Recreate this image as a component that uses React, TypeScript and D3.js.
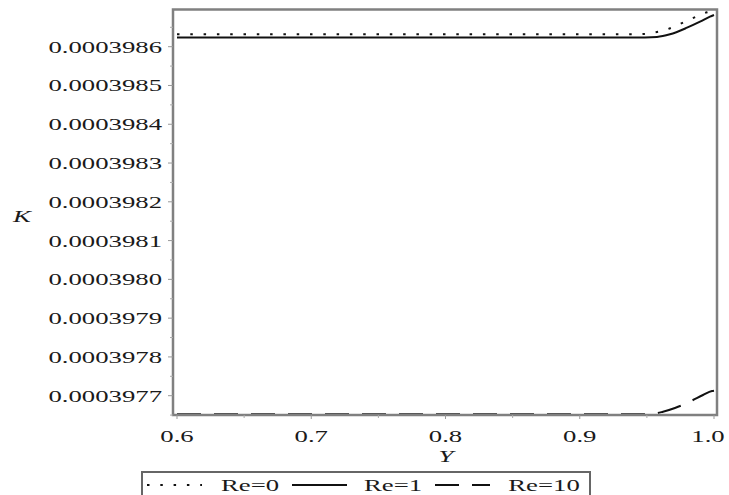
import React from "react";
import * as d3 from "d3";

const W = 729;
const H = 495;

// Data (Y, K)
const yRe0 = [0.6, 0.7, 0.8, 0.9, 0.9426, 0.947, 0.9523, 0.962, 0.9702, 0.9784, 0.9866, 0.9948, 1.0];
const kRe0 = [0.000398632, 0.000398632, 0.000398632, 0.000398632, 0.000398632, 0.0003986325, 0.0003986353, 0.0003986413, 0.0003986516, 0.0003986645, 0.0003986774, 0.0003986887, 0.0003986921];

const yRe1 = [0.6, 0.7, 0.8, 0.9, 0.9486, 0.9575, 0.9672, 0.9799, 0.9896, 0.997, 1.0];
const kRe1 = [0.0003986237, 0.0003986237, 0.0003986237, 0.0003986237, 0.000398624, 0.0003986252, 0.000398632, 0.000398649, 0.0003986645, 0.0003986774, 0.0003986817];

const yRe10 = [0.6, 0.7, 0.8, 0.9, 0.945, 0.9546, 0.962, 0.9709, 0.9784, 0.9844, 0.9918, 0.9985, 1.0];
const kRe10 = [0.000397652, 0.000397652, 0.000397652, 0.000397652, 0.000397652, 0.0003976533, 0.0003976587, 0.0003976683, 0.0003976786, 0.0003976889, 0.0003977018, 0.0003977121, 0.0003977129];

const xTicks = [0.6, 0.7, 0.8, 0.9, 1.0];
const xMinor = [0.65, 0.75, 0.85, 0.95];
const yTicks = [0.0003977, 0.0003978, 0.0003979, 0.000398, 0.0003981, 0.0003982, 0.0003983, 0.0003984, 0.0003985, 0.0003986];
const yTickLabels = ["0.0003977", "0.0003978", "0.0003979", "0.0003980", "0.0003981", "0.0003982", "0.0003983", "0.0003984", "0.0003985", "0.0003986"];
const legendLabels = ["Re=0", "Re=1", "Re=10"];

const SX = 1.62;
const FONT = "'Liberation Serif', 'Times New Roman', serif";
const FS = 16.5;

const xScale = d3.scaleLinear().domain([0.6, 1.0]).range([177, 714]);
const yScale = d3.scaleLinear().domain([0.0003977, 0.0003986]).range([395.7, 46.7]);

const frame = { left: 173, right: 717, top: 9.5, bottom: 415 };

function T({ x, y, anchor = "middle", italic = false, children }: any) {
  return (
    <text
      transform={`translate(${x},${y}) scale(${SX},1)`}
      textAnchor={anchor}
      fontFamily={FONT}
      fontSize={FS}
      fontStyle={italic ? "italic" : "normal"}
      fill="#1a1a1a"
    >
      {children}
    </text>
  );
}

export default function App() {
  const line = d3
    .line<[number, number]>()
    .x((d) => xScale(d[0]))
    .y((d) => yScale(d[1]))
    .curve(d3.curveMonotoneX);

  const series = [
    { xs: yRe0, ks: kRe0, dash: "2.5 10.8" },
    { xs: yRe1, ks: kRe1, dash: "none" },
    { xs: yRe10, ks: kRe10, dash: "24 13" },
  ];

  const yMinor = yTicks.slice(0, -1).map((v, i) => (v + yTicks[i + 1]) / 2);
  const minorBelow = yTicks[0] - 0.00000005;
  const minorAbove = yTicks[yTicks.length - 1] + 0.00000005;
  const allYMinor = [minorBelow, ...yMinor, minorAbove];

  const legendItems = [
    { x1: 147, x2: 202, tx: 250, dash: "2.5 10.8" },
    { x1: 292, x2: 347, tx: 393, dash: "none" },
    { x1: 435, x2: 490, tx: 544, dash: "24 13" },
  ];

  return (
    <svg width={W} height={H} style={{ position: "absolute", left: 0, top: 0, background: "#fff" }}>
      <rect x={0} y={0} width={W} height={H} fill="#fff" />
      {series.map((s, i) => (
        <path
          key={i}
          d={line(s.xs.map((v, j) => [v, s.ks[j]] as [number, number])) || ""}
          fill="none"
          stroke="#111"
          strokeWidth={2}
          strokeDasharray={s.dash}
        />
      ))}
      <rect
        x={frame.left}
        y={frame.top}
        width={frame.right - frame.left}
        height={frame.bottom - frame.top}
        fill="none"
        stroke="#808080"
        strokeWidth={2.5}
      />
      {yTicks.map((v, i) => (
        <g key={"yt" + i}>
          <line x1={frame.left - 5} x2={frame.left} y1={yScale(v)} y2={yScale(v)} stroke="#999" strokeWidth={1} />
          <T x={162} y={yScale(v) + 6} anchor="end">
            {yTickLabels[i]}
          </T>
        </g>
      ))}
      {allYMinor.map((v, i) => (
        <line key={"ym" + i} x1={frame.left - 3} x2={frame.left} y1={yScale(v)} y2={yScale(v)} stroke="#aaa" strokeWidth={1} />
      ))}
      {xTicks.map((v, i) => (
        <g key={"xt" + i}>
          <line x1={xScale(v)} x2={xScale(v)} y1={frame.bottom} y2={frame.bottom + 4} stroke="#999" strokeWidth={1} />
          <T x={xScale(v) - (i === xTicks.length - 1 ? 6 : 0)} y={442}>
            {d3.format(".1f")(v)}
          </T>
        </g>
      ))}
      {xMinor.map((v, i) => (
        <line key={"xm" + i} x1={xScale(v)} x2={xScale(v)} y1={frame.bottom} y2={frame.bottom + 3} stroke="#aaa" strokeWidth={1} />
      ))}
      <T x={446} y={462} italic>
        Y
      </T>
      <T x={22} y={222} italic>
        K
      </T>
      <rect x={142} y={472} width={448} height={30} fill="#fff" stroke="#666" strokeWidth={2} />
      {legendItems.map((it, i) => (
        <g key={"lg" + i}>
          <line x1={it.x1} x2={it.x2} y1={485} y2={485} stroke="#111" strokeWidth={2} strokeDasharray={it.dash} />
          <T x={it.tx} y={491}>
            {legendLabels[i]}
          </T>
        </g>
      ))}
    </svg>
  );
}
